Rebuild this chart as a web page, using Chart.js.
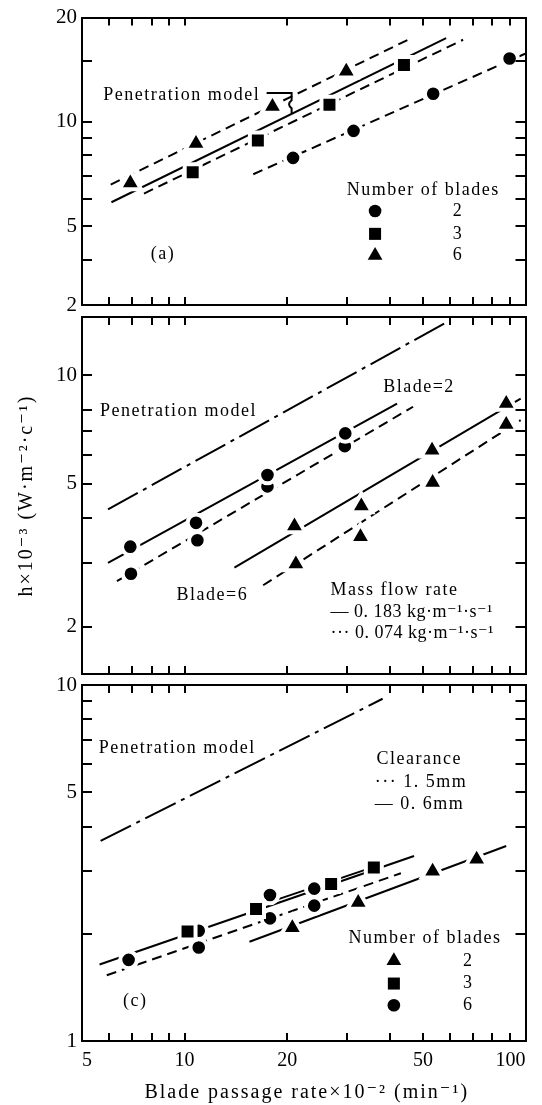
<!DOCTYPE html>
<html>
<head>
<meta charset="utf-8">
<script src="https://cdn.jsdelivr.net/npm/chart.js@4.4.0/dist/chart.umd.min.js"></script>
<style>
  html, body { margin: 0; padding: 0; background: #fff; }
  #wrap { position: relative; width: 542px; height: 1105px; }
  #wrap canvas { position: absolute; left: 0; top: 0; }
</style>
</head>
<body>
<div id="wrap">
  <canvas id="panel-a" width="542" height="1105"></canvas>
  <canvas id="panel-b" width="542" height="1105"></canvas>
  <canvas id="panel-c" width="542" height="1105"></canvas>
</div>
<script>
const SERIF = '"Liberation Serif", "DejaVu Serif", serif';
const BLACK = '#000';

// shared x axis: blade passage rate x10^-2 (min^-1)
const xTicks = [5, 6, 7, 8, 9, 10, 20, 30, 40, 50, 60, 70, 80, 90, 100];
const xTickLabels = ['5', '', '', '', '', '10', '20', '', '', '50', '', '', '', '', '100'];

// ---- panel (a) ----
const aYTicks = [2.96, 4, 5, 6, 7, 8, 9, 10, 15, 20];
const aYTickLabels = ['2', '', '5', '', '', '', '', '10', '', '20'];
const aBlade2X = [20.8, 31.3, 53.6, 89.8];
const aBlade2Y = [7.87, 9.42, 12.05, 15.24];
const aBlade3X = [10.56, 16.4, 26.6, 44.0];
const aBlade3Y = [7.15, 8.83, 11.2, 14.6];
const aBlade6X = [6.93, 10.8, 18.1, 29.8];
const aBlade6Y = [6.66, 8.66, 11.08, 13.99];
const aFit2X = [15.9, 103.7];
const aFit2Y = [7.06, 16.0];
const aFit3X = [7.6, 65.6];
const aFit3Y = [6.21, 17.26];
const aFit6X = [6.07, 45.2];
const aFit6Y = [6.59, 17.26];
const aModelX = [6.1, 58.5];
const aModelY = [5.86, 17.45];

// ---- panel (b) ----
const bYTicks = [2, 3, 4, 5, 6, 7, 8, 10];
const bYTickLabels = ['2', '', '', '5', '', '', '', '10'];
const bBlade2HighX = [6.93, 10.8, 17.5, 29.6];
const bBlade2HighY = [3.34, 3.89, 5.28, 6.89];
const bBlade2LowX = [6.96, 10.9, 17.5, 29.5];
const bBlade2LowY = [2.81, 3.48, 4.91, 6.35];
const bBlade6HighX = [21.0, 33.0, 53.2, 87.8];
const bBlade6HighY = [3.81, 4.33, 6.19, 8.34];
const bBlade6LowX = [21.2, 32.8, 53.4, 87.8];
const bBlade6LowY = [2.99, 3.56, 5.03, 7.29];
const bModelX = [5.96, 57.9];
const bModelY = [4.24, 13.92];
const bFit2HighX = [5.96, 42.0];
const bFit2HighY = [3.01, 8.34];
const bFit2LowX = [6.33, 46.8];
const bFit2LowY = [2.68, 8.17];
const bFit6HighX = [14.0, 96.8];
const bFit6HighY = [2.92, 8.61];
const bFit6LowX = [17.0, 96.8];
const bFit6LowY = [2.61, 7.5];

// ---- panel (c) ----
const cYTicks = [1, 2, 3, 4, 5, 6, 7, 8, 9, 10];
const cYTickLabels = ['1', '', '', '', '5', '', '', '', '', '10'];
const cBlade2X = [20.7, 32.3, 53.4, 71.9];
const cBlade2Y = [2.08, 2.45, 3.0, 3.24];
const cBlade3X = [10.2, 16.2, 26.9, 35.9];
const cBlade3Y = [2.03, 2.35, 2.76, 3.07];
const cBlade6X = [6.85, 11.0, 11.0, 17.8, 17.8, 24.0, 24.0];
const cBlade6Y = [1.69, 2.04, 1.83, 2.57, 2.21, 2.68, 2.4];
const cModelX = [5.67, 38.1];
const cModelY = [3.65, 9.15];
const cFitNarrowX = [5.63, 47.1];
const cFitNarrowY = [1.64, 3.31];
const cFitNarrow3X = [17.4, 35.4];
const cFitNarrow3Y = [2.44, 3.07];
const cFitWideX = [5.91, 43.1];
const cFitWideY = [1.53, 2.96];
const cFit2X = [15.5, 87.8];
const cFit2Y = [1.9, 3.53];

const SOLID = [];
const DASH = [10, 6];
const DASHDOT = [34, 6, 4, 6];

function pts(xs, ys) {
  return xs.map((x, i) => ({x: x, y: ys[i]}));
}

// filled marker with a white halo so lines break around it, like the print
function markers(xs, ys, style) {
  const r = {circle: 8.3, rect: 11.3, triangle: 12.5}[style];
  return {
    data: pts(xs, ys),
    showLine: false,
    pointStyle: style,
    pointRadius: r,
    pointBackgroundColor: BLACK,
    pointBorderColor: '#fff',
    pointBorderWidth: 4
  };
}

function fitLine(xs, ys, dash) {
  return {
    data: pts(xs, ys),
    showLine: true,
    borderColor: BLACK,
    borderWidth: 2,
    borderDash: dash,
    pointRadius: 0
  };
}

// inward tick marks on all four sides
const frameTicks = {
  id: 'frameTicks',
  afterDraw(chart) {
    const {ctx, chartArea: a, scales: {x, y}} = chart;
    ctx.save();
    ctx.strokeStyle = BLACK;
    ctx.lineWidth = 2;
    ctx.beginPath();
    x.ticks.forEach(t => {
      if (t.value <= x.min || t.value >= x.max) return;
      const px = Math.round(x.getPixelForValue(t.value));
      ctx.moveTo(px, a.bottom); ctx.lineTo(px, a.bottom - 8);
      ctx.moveTo(px, a.top); ctx.lineTo(px, a.top + 8);
    });
    y.ticks.forEach(t => {
      if (t.value <= y.min || t.value >= y.max) return;
      const py = Math.round(y.getPixelForValue(t.value));
      ctx.moveTo(a.left, py); ctx.lineTo(a.left + 10, py);
      ctx.moveTo(a.right, py); ctx.lineTo(a.right - 10, py);
    });
    ctx.stroke();
    ctx.restore();
  }
};

function notesPlugin(items, keys, extra) {
  return {
    id: 'notes',
    afterDatasetsDraw(chart) {
      const {ctx, scales: {x, y}} = chart;
      ctx.save();
      ctx.fillStyle = BLACK;
      ctx.strokeStyle = BLACK;
      ctx.textBaseline = 'middle';
      items.forEach(n => {
        ctx.font = (n.size || 18) + 'px ' + SERIF;
        ctx.letterSpacing = (n.spacing == null ? 1.5 : n.spacing) + 'px';
        ctx.textAlign = n.align || 'center';
        ctx.fillText(n.text, x.getPixelForValue(n.x), y.getPixelForValue(n.y));
      });
      keys.forEach(k => {
        Chart.helpers.drawPoint(ctx, {pointStyle: k.style, radius: k.r, rotation: 0, borderWidth: 0},
          x.getPixelForValue(k.x), y.getPixelForValue(k.y));
      });
      ctx.letterSpacing = '0px';
      if (extra) extra(chart, ctx);
      ctx.restore();
    }
  };
}

function buildPanel(id, p) {
  const tickFont = {family: SERIF, size: 21};
  return new Chart(document.getElementById(id), {
    type: 'scatter',
    data: {datasets: p.datasets},
    options: {
      responsive: false,
      animation: false,
      devicePixelRatio: 1,
      layout: {padding: 0},
      plugins: {legend: {display: false}, tooltip: {enabled: false}},
      scales: {
        x: {
          type: 'logarithmic', position: 'bottom', min: 5, max: 100,
          afterBuildTicks: s => { s.ticks = xTicks.map(v => ({value: v})); },
          afterFit: s => { s.height = 1105 - p.bottom; },
          grid: {display: false, drawTicks: false},
          border: {display: true, color: BLACK, width: 2},
          ticks: {
            display: p.xLabels, autoSkip: false, maxRotation: 0, align: 'inner', padding: 8,
            color: BLACK, font: {family: SERIF, size: 20},
            callback: (v, i) => xTickLabels[i]
          }
        },
        xTop: {
          axis: 'x', type: 'logarithmic', position: 'top', min: 5, max: 100,
          afterFit: s => { s.height = p.top; },
          grid: {display: false, drawTicks: false},
          border: {display: true, color: BLACK, width: 2},
          ticks: {display: false}
        },
        y: {
          type: 'logarithmic', position: 'left', min: p.yMin, max: p.yMax,
          afterBuildTicks: s => { s.ticks = p.yTicks.map(v => ({value: v})); },
          afterFit: s => { s.width = 82; },
          grid: {display: false, drawTicks: false},
          border: {display: true, color: BLACK, width: 2},
          ticks: {
            autoSkip: false, padding: 5, color: BLACK, font: tickFont,
            callback: (v, i) => p.yLabels[i]
          }
        },
        yRight: {
          axis: 'y', type: 'logarithmic', position: 'right', min: p.yMin, max: p.yMax,
          afterFit: s => { s.width = 5; },
          grid: {display: false, drawTicks: false},
          border: {display: true, color: BLACK, width: 2},
          ticks: {display: false}
        }
      }
    },
    plugins: [frameTicks, notesPlugin(p.notes, p.keys, p.extra)]
  });
}

// ---- (a) ----
buildPanel('panel-a', {
  top: 10, bottom: 305, yMin: 2.96, yMax: 20,
  yTicks: aYTicks, yLabels: aYTickLabels, xLabels: false,
  datasets: [
    markers(aBlade2X, aBlade2Y, 'circle'),
    markers(aBlade3X, aBlade3Y, 'rect'),
    markers(aBlade6X, aBlade6Y, 'triangle'),
    fitLine(aFit2X, aFit2Y, DASH),
    fitLine(aFit3X, aFit3Y, DASH),
    fitLine(aFit6X, aFit6Y, DASH),
    fitLine(aModelX, aModelY, SOLID)
  ],
  notes: [
    {text: 'Penetration model', x: 5.77, y: 11.94, align: 'left'},
    {text: '(a)', x: 8.64, y: 4.16},
    {text: 'Number of blades', x: 50.1, y: 6.35},
    {text: '2', x: 63.4, y: 5.53},
    {text: '3', x: 63.4, y: 4.75},
    {text: '6', x: 63.4, y: 4.11}
  ],
  keys: [
    {style: 'circle', r: 6.3, x: 36.2, y: 5.53},
    {style: 'rect', r: 8.5, x: 36.2, y: 4.75},
    {style: 'triangle', r: 8.5, x: 36.2, y: 4.11}
  ],
  extra: (chart, ctx) => {
    // bracket from the label to the model line
    const {x, y} = chart.scales;
    ctx.lineWidth = 2;
    ctx.beginPath();
    ctx.moveTo(x.getPixelForValue(17.4), y.getPixelForValue(12.12));
    ctx.lineTo(x.getPixelForValue(20.6), y.getPixelForValue(12.12));
    ctx.lineTo(x.getPixelForValue(20.6), y.getPixelForValue(11.55));
    ctx.quadraticCurveTo(x.getPixelForValue(19.9), y.getPixelForValue(11.25),
      x.getPixelForValue(20.6), y.getPixelForValue(10.95));
    ctx.lineTo(x.getPixelForValue(20.6), y.getPixelForValue(10.55));
    ctx.stroke();
  }
});

// ---- (b) ----
buildPanel('panel-b', {
  top: 317, bottom: 674, yMin: 1.48, yMax: 14.5,
  yTicks: bYTicks, yLabels: bYTickLabels, xLabels: false,
  datasets: [
    markers(bBlade2HighX, bBlade2HighY, 'circle'),
    markers(bBlade2LowX, bBlade2LowY, 'circle'),
    markers(bBlade6HighX, bBlade6HighY, 'triangle'),
    markers(bBlade6LowX, bBlade6LowY, 'triangle'),
    fitLine(bModelX, bModelY, DASHDOT),
    fitLine(bFit2HighX, bFit2HighY, SOLID),
    fitLine(bFit2LowX, bFit2LowY, DASH),
    fitLine(bFit6HighX, bFit6HighY, SOLID),
    fitLine(bFit6LowX, bFit6LowY, DASH)
  ],
  notes: [
    {text: 'Penetration model', x: 9.6, y: 7.96},
    {text: 'Blade=2', x: 48.7, y: 9.28},
    {text: 'Blade=6', x: 12.06, y: 2.45},
    {text: 'Mass flow rate', x: 26.8, y: 2.53, align: 'left'},
    {text: '— 0. 183 kg·m⁻¹·s⁻¹', x: 26.8, y: 2.2, align: 'left', spacing: 0.5},
    {text: '··· 0. 074 kg·m⁻¹·s⁻¹', x: 26.8, y: 1.92, align: 'left', spacing: 0.5}
  ],
  keys: [],
  extra: (chart, ctx) => {
    // shared y axis title, centred on the middle panel
    const a = chart.chartArea;
    ctx.font = '20px ' + SERIF;
    ctx.letterSpacing = '2px';
    ctx.textAlign = 'center';
    ctx.translate(27, (a.top + a.bottom) / 2);
    ctx.rotate(-Math.PI / 2);
    ctx.fillText('h×10⁻³ (W·m⁻²·c⁻¹)', 0, 0);
  }
});

// ---- (c) ----
buildPanel('panel-c', {
  top: 685, bottom: 1041, yMin: 1, yMax: 10,
  yTicks: cYTicks, yLabels: cYTickLabels, xLabels: true,
  datasets: [
    markers(cBlade2X, cBlade2Y, 'triangle'),
    markers(cBlade3X, cBlade3Y, 'rect'),
    markers(cBlade6X, cBlade6Y, 'circle'),
    fitLine(cModelX, cModelY, DASHDOT),
    fitLine(cFitNarrowX, cFitNarrowY, SOLID),
    fitLine(cFitNarrow3X, cFitNarrow3Y, SOLID),
    fitLine(cFitWideX, cFitWideY, DASH),
    fitLine(cFit2X, cFit2Y, SOLID)
  ],
  notes: [
    {text: 'Penetration model', x: 9.51, y: 6.63},
    {text: 'Clearance', x: 48.8, y: 6.19},
    {text: '··· 1. 5mm', x: 36.1, y: 5.34, align: 'left'},
    {text: '— 0. 6mm', x: 36.1, y: 4.61, align: 'left'},
    {text: 'Number of blades', x: 50.7, y: 1.94},
    {text: '2', x: 67.9, y: 1.68},
    {text: '3', x: 67.9, y: 1.45},
    {text: '6', x: 67.9, y: 1.26},
    {text: '(c)', x: 7.16, y: 1.29}
  ],
  keys: [
    {style: 'triangle', r: 8.5, x: 41.1, y: 1.68},
    {style: 'rect', r: 8.5, x: 41.1, y: 1.45},
    {style: 'circle', r: 6.3, x: 41.1, y: 1.26}
  ],
  extra: (chart, ctx) => {
    const a = chart.chartArea;
    ctx.font = '20px ' + SERIF;
    ctx.letterSpacing = '2px';
    ctx.textAlign = 'center';
    ctx.fillText('Blade passage rate×10⁻² (min⁻¹)', (a.left + a.right) / 2 + 3, a.bottom + 52);
  }
});
</script>
</body>
</html>
